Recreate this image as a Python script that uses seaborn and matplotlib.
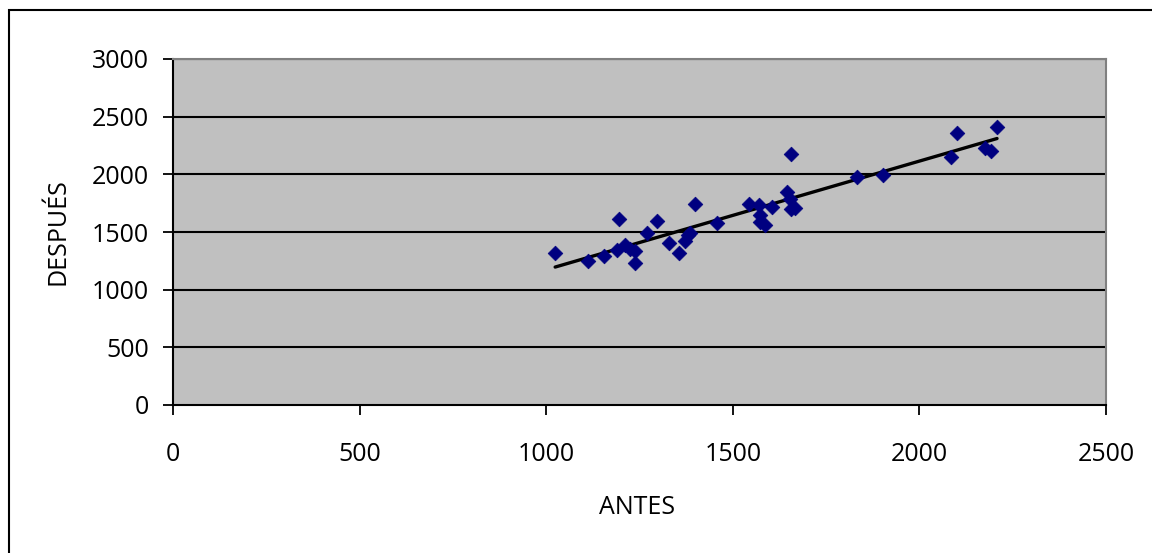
import numpy as np
import pandas as pd
import matplotlib
matplotlib.use("Agg")
import matplotlib.pyplot as plt
import matplotlib.patches as mpatches
import seaborn as sns

# Data
antes = [1024, 1113, 1154, 1190, 1196, 1212, 1225, 1239, 1239, 1270, 1297, 1328,
         1357, 1371, 1379, 1384, 1398, 1458, 1543, 1570, 1572, 1574, 1587, 1605,
         1645, 1652, 1656, 1656, 1668, 1833, 1902, 2085, 2101, 2175, 2193, 2208]
despues = [1320, 1249, 1295, 1345, 1613, 1390, 1350, 1338, 1229, 1488, 1598, 1407,
           1321, 1422, 1474, 1494, 1740, 1575, 1746, 1734, 1647, 1590, 1561, 1714,
           1845, 1790, 1700, 2173, 1705, 1980, 1994, 2153, 2361, 2225, 2205, 2413]
x_ticks = [0, 500, 1000, 1500, 2000, 2500]
y_ticks = [0, 500, 1000, 1500, 2000, 2500, 3000]
x_label = "ANTES"
y_label = "DESPUÉS"

df = pd.DataFrame({"ANTES": antes, "DESPUES": despues})

sns.set_theme(style="white")
plt.rcParams["font.family"] = ["Open Sans", "DejaVu Sans"]

W, H = 1152, 553
fig = plt.figure(figsize=(W / 100, H / 100), dpi=100)
fig.patch.set_facecolor("white")

# outer chart border (only top/left visible in reference)
fig.patches.append(mpatches.Rectangle((9 / W, -0.1), 1.2, 1 - 10 / H + 0.1,
                                      transform=fig.transFigure, fill=False,
                                      edgecolor="black", linewidth=1.5, zorder=0))

left, right, top, bottom = 173, 1106, 59, 405
ax = fig.add_axes([left / W, 1 - bottom / H, (right - left) / W, (bottom - top) / H])
ax.set_facecolor("#C0C0C0")

ax.set_xlim(x_ticks[0], x_ticks[-1])
ax.set_ylim(y_ticks[0], y_ticks[-1])
ax.set_xticks(x_ticks)
ax.set_yticks(y_ticks)
ax.set_xticklabels([str(v) for v in x_ticks])
ax.set_yticklabels([str(v) for v in y_ticks])

for v in y_ticks[1:]:
    ax.axhline(v, color="black", linewidth=1.5, zorder=1)

sns.regplot(data=df, x="ANTES", y="DESPUES", ax=ax, scatter=False, ci=None,
            truncate=True, line_kws={"color": "black", "linewidth": 2.4, "zorder": 2})
sns.scatterplot(data=df, x="ANTES", y="DESPUES", ax=ax, marker="D", s=56,
                color="#000080", edgecolor="#000080", linewidth=0.5, zorder=3)

for side in ["top", "right"]:
    ax.spines[side].set_visible(True)
    ax.spines[side].set_color("#808080")
    ax.spines[side].set_linewidth(1.5)
for side in ["left", "bottom"]:
    ax.spines[side].set_visible(True)
    ax.spines[side].set_color("black")
    ax.spines[side].set_linewidth(1.5)

FS = 18
ax.tick_params(axis="both", which="major", direction="out", length=7.5, width=1.3,
               color="black", labelsize=FS, labelcolor="black")
ax.tick_params(axis="y", pad=10)
ax.tick_params(axis="x", pad=19)
ax.tick_params(left=True, bottom=True)

ax.set_xlabel(x_label, fontsize=FS, color="black")
ax.set_ylabel(y_label, fontsize=FS, color="black")
ax.xaxis.label.set_va("center")
ax.yaxis.label.set_va("center")
ax.xaxis.set_label_coords((637 - left) / (right - left), (bottom - 508) / (bottom - top))
ax.yaxis.set_label_coords((58 - left) / (right - left), 0.5)

fig.savefig("out.png", dpi=100, facecolor="white")
